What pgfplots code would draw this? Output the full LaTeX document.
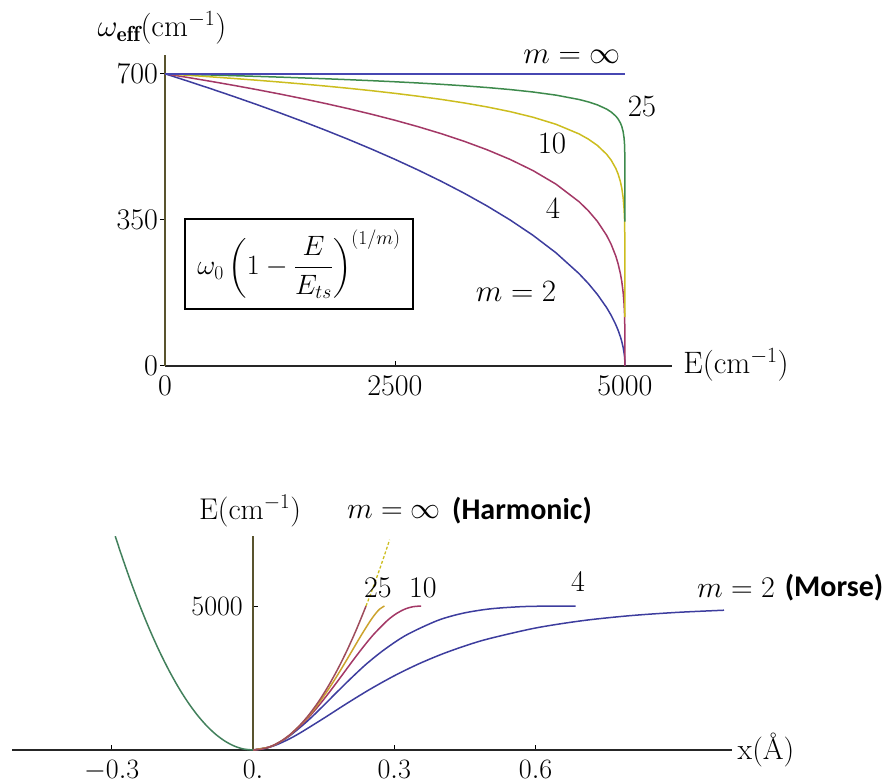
\RequirePackage{fix-cm}
\documentclass[border=0pt]{standalone}
\usepackage{amsmath}
\usepackage{fontspec}
\usepackage{pgfplots}
\pgfplotsset{compat=1.18}
\newfontfamily\labelsans{Carlito}

\definecolor{cblue}{rgb}{0.24,0.24,0.62}
\definecolor{cred}{rgb}{0.64,0.22,0.40}
\definecolor{cyellow}{rgb}{0.80,0.74,0.12}
\definecolor{cgreen}{rgb}{0.24,0.54,0.30}
\definecolor{cinf}{rgb}{0.28,0.28,0.70}
\definecolor{corange}{rgb}{0.80,0.64,0.18}
\definecolor{cbrown}{rgb}{0.62,0.30,0.36}
\definecolor{cleft}{rgb}{0.26,0.50,0.36}
\definecolor{caxis}{rgb}{0.35,0.33,0.18}

\pgfplotsset{
  every axis/.append style={
    /pgf/number format/1000 sep={},
  },
}

\begin{document}
\fontsize{30}{36}\selectfont
\begin{tikzpicture}
\useasboundingbox (0,0) rectangle (886pt,782pt);

% ---------- effective frequency versus energy ----------
\begin{axis}[
  at={(165pt,416pt)}, anchor=south west,
  scale only axis, width=507pt, height=311pt,
  xmin=0, xmax=5511, ymin=0, ymax=745,
  enlargelimits=false, clip=false,
  axis x line=bottom, axis y line=left,
  axis line style={-, line width=1.2pt},
  x axis line style={black!85},
  y axis line style={caxis},
  xtick={0,2500,5000}, ytick={0,350,700},
  scaled ticks=false,
  xtick align=inside, ytick align=outside,
  major tick length=5pt,
  tick style={line width=1pt, black},
  tick label style={font=\fontsize{30}{36}\selectfont},
  yticklabel style={inner sep=2pt},
  every axis plot/.append style={line width=1.5pt},
]
\addplot[cblue] coordinates {
 (0,700) (250,682.28) (500,664.08) (750,645.37) (1000,626.10) (1250,606.22)
 (1500,585.66) (1750,564.36) (2000,542.22) (2250,519.13) (2500,494.97)
 (2750,469.57) (3000,442.72) (3250,414.13) (3500,383.41) (3750,350.0)
 (4000,313.05) (4250,271.11) (4500,221.36) (4600,197.99) (4700,171.46)
 (4800,140.0) (4850,121.24) (4900,98.99) (4925,85.73) (4950,70.0)
 (4965,58.57) (4980,44.27) (4990,31.30) (4995,22.14) (4999,9.90) (5000,0)};
\addplot[cred] coordinates {
 (0,700) (250,691.08) (500,681.80) (750,672.14) (1000,662.02) (1250,651.42)
 (1500,640.28) (1750,628.53) (2000,616.08) (2250,602.82) (2500,588.63)
 (2750,573.33) (3000,556.69) (3250,538.41) (3500,518.06) (3750,494.97)
 (4000,468.12) (4250,435.63) (4500,393.64) (4600,372.28) (4700,346.45)
 (4800,313.05) (4850,291.33) (4900,263.24) (4925,244.97) (4950,221.36)
 (4965,202.47) (4980,176.04) (4990,148.03) (4995,124.48) (4999,83.24)
 (4999.9,46.81) (5000,0)};
\addplot[cyellow] coordinates {
 (0,700) (250,696.42) (500,692.66) (750,688.72) (1000,684.55) (1250,680.15)
 (1500,675.47) (1750,670.49) (2000,665.14) (2250,659.38) (2500,653.12)
 (2750,646.28) (3000,638.71) (3250,630.24) (3500,620.60) (3750,609.39)
 (4000,595.94) (4250,579.04) (4500,556.03) (4600,543.75) (4700,528.33)
 (4800,507.35) (4850,492.96) (4900,473.37) (4925,459.96) (4950,441.67)
 (4965,426.21) (4980,403.0) (4990,376.01) (4995,350.83) (4999,298.69)
 (4999.9,237.23) (4999.995,175.83) (5000,117)};
\addplot[cgreen] coordinates {
 (0,700) (250,698.57) (500,697.06) (750,695.46) (1000,693.78) (1250,691.99)
 (1500,690.08) (1750,688.04) (2000,685.84) (2250,683.46) (2500,680.86)
 (2750,678.00) (3000,674.81) (3250,671.21) (3500,667.09) (3750,662.24)
 (4000,656.36) (4250,648.85) (4500,638.41) (4600,632.73) (4700,625.50)
 (4800,615.43) (4850,608.39) (4900,598.60) (4925,591.76) (4950,582.23)
 (4965,573.99) (4980,561.28) (4990,545.93) (4995,531.0) (4999,497.92)
 (4999.9,454.09) (4999.995,402.81) (5000,346)};
\addplot[cinf] coordinates {(0,700) (5000,700)};
\end{axis}

\begin{scope}[font=\fontsize{31}{37}\selectfont]
\node at (162pt,754pt) {$\omega_{\mathbf{eff}}(\mathrm{cm}^{-1})$};
\node at (736pt,417pt) {$\mathrm{E}(\mathrm{cm}^{-1})$};
\node at (572pt,725pt) {$m=\infty$};
\node at (642pt,675pt) {$25$};
\node at (552pt,638pt) {$10$};
\node at (553pt,573pt) {$4$};
\node at (516pt,490pt) {$m=2$};
\end{scope}
\node[draw, line width=1.6pt, minimum width=228pt, minimum height=90pt,
      inner sep=0pt, font=\fontsize{28}{33}\selectfont]
  at (299pt,518pt)
  {$\displaystyle \omega_0\left(1-\frac{E}{E_{ts}}\right)^{(1/m)}$};

% ---------- potential energy curves ----------
\begin{axis}[
  at={(12pt,32pt)}, anchor=south west,
  scale only axis, width=720pt, height=214pt,
  xmin=-0.5117, xmax=1.017, ymin=0, ymax=7431,
  enlargelimits=false,
  axis x line=bottom, axis y line=center,
  axis line style={-, line width=1.2pt},
  x axis line style={black!85},
  y axis line style={caxis},
  xtick={-0.3,0,0.3,0.6}, xticklabels={$-0.3$,$0.$,$0.3$,$0.6$},
  ytick={5000},
  hide obscured x ticks=false,
  scaled ticks=false,
  tick align=inside,
  major tick length=5pt,
  tick style={line width=1pt, black},
  tick label style={font=\fontsize{28}{33}\selectfont},
  yticklabel style={anchor=east},
  every axis plot/.append style={line width=1.5pt},
]
% Morse, m = 2
\addplot[cblue, smooth] coordinates {
 (0,0) (0.025,50.1) (0.05,180.9) (0.075,367.9) (0.1,592.5) (0.15,1099.6)
 (0.2,1624.4) (0.25,2123.8) (0.3,2577.5) (0.35,2977.0) (0.4,3321.6)
 (0.45,3614.5) (0.5,3860.7) (0.6,4236.3) (0.7,4492.1) (0.8,4663.9)
 (0.9,4778.2) (1.0,4854.0)};
% m = 4
\addplot[cblue, smooth] coordinates {
 (0,0) (0.03417,100) (0.05458,250) (0.07856,500) (0.11531,1000)
 (0.14706,1500) (0.17756,2000) (0.20870,2500) (0.24168,3000)
 (0.28003,3500) (0.32643,4000) (0.39236,4500) (0.44600,4750)
 (0.50292,4900) (0.56687,4975) (0.61770,4995) (0.685,5000)};
% m = 10
\addplot[cred, smooth] coordinates {
 (0,0) (0.03403,100) (0.05403,250) (0.07695,500) (0.11048,1000)
 (0.13756,1500) (0.16179,2000) (0.18467,2500) (0.20721,3000)
 (0.23034,3500) (0.25537,4000) (0.28545,4500) (0.30571,4750)
 (0.32357,4900) (0.33960,4975) (0.357,5000)};
% m = 25
\addplot[corange, smooth] coordinates {
 (0,0) (0.03398,100) (0.05381,250) (0.07632,500) (0.10858,1000)
 (0.13388,1500) (0.15574,2000) (0.17560,2500) (0.19425,3000)
 (0.21229,3500) (0.23036,4000) (0.24965,4500) (0.26088,4750)
 (0.26940,4900) (0.2791,5000)};
% harmonic, m = infinity
\addplot[cbrown, smooth] coordinates {
 (0,0) (0.02,34.7) (0.04,138.9) (0.06,312.5) (0.08,555.6) (0.10,868.1)
 (0.12,1250) (0.14,1701.4) (0.16,2222.2) (0.18,2812.5) (0.20,3472.2)
 (0.22,4201.4) (0.24,5000)};
\addplot[cyellow, densely dashed, line width=1.3pt] coordinates {
 (0.24,5000) (0.25,5425.3) (0.26,5868.1) (0.27,6328.1) (0.28,6805.6) (0.29,7300.3)};
\addplot[cleft, smooth] coordinates {
 (-0.2925,7426.8) (-0.28,6805.6) (-0.26,5868.1) (-0.24,5000) (-0.22,4201.4)
 (-0.20,3472.2) (-0.18,2812.5) (-0.16,2222.2) (-0.14,1701.4) (-0.12,1250)
 (-0.10,868.1) (-0.08,555.6) (-0.06,312.5) (-0.04,138.9) (-0.02,34.7) (0,0)};
\end{axis}

\begin{scope}[font=\fontsize{30}{36}\selectfont]
\node at (250pt,271pt) {$\mathrm{E}(\mathrm{cm}^{-1})$};
\node at (394pt,270pt) {$m=\infty$};
\node at (522pt,271pt) {\labelsans\bfseries (Harmonic)};
\node at (378pt,194pt) {$25$};
\node at (423pt,194pt) {$10$};
\node at (578pt,200pt) {$4$};
\node at (736pt,194pt) {$m=2$};
\node at (834pt,194pt) {\labelsans\bfseries (Morse)};
\node at (766pt,32pt) {x(Å)};
\end{scope}
\end{tikzpicture}
\end{document}
